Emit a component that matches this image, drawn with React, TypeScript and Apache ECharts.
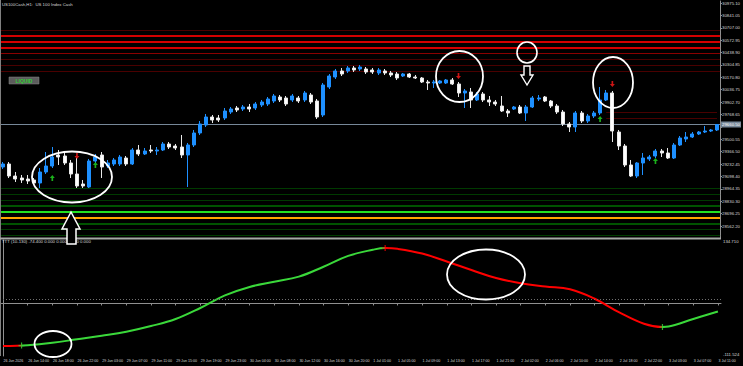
import React, { useEffect, useRef } from "react";
import * as echarts from "echarts";

const chartTitle = "US100Cash,H1:  US 100 Index Cash";
const indicatorTitle = "TTT (10-130) -74.400 0.000 0.000 0.000 0.000";

const priceTicks = [
  30975.1, 30841.05, 30707.0, 30572.95, 30438.9, 30304.85, 30170.8, 30036.75, 29902.7,
  29768.65, 29634.6, 29500.55, 29366.5, 29232.45, 29098.4, 28964.35, 28830.3, 28696.25, 28562.2,
];

const timeLabels = [
  "26 Jun 2026", "26 Jun 14:00", "26 Jun 18:00", "26 Jun 22:00", "29 Jun 03:00", "29 Jun 07:00",
  "29 Jun 11:00", "29 Jun 15:00", "29 Jun 19:00", "29 Jun 23:00", "30 Jun 04:00", "30 Jun 08:00",
  "30 Jun 12:00", "30 Jun 16:00", "30 Jun 20:00", "1 Jul 01:00", "1 Jul 05:00", "1 Jul 09:00",
  "1 Jul 13:00", "1 Jul 17:00", "1 Jul 21:00", "2 Jul 02:00", "2 Jul 06:00", "2 Jul 10:00",
  "2 Jul 14:00", "2 Jul 18:00", "2 Jul 22:00", "3 Jul 03:00", "3 Jul 07:00", "3 Jul 11:00",
];

const opens = [
  29200.6, 29233.1, 29103.2, 29081.6, 29070.8, 29060.0, 29027.5, 29146.5, 29211.4, 29330.5,
  29319.6, 29243.9, 29124.9, 29016.7, 28984.2, 29265.5, 29330.5, 29211.4, 29233.1, 29233.1,
  29298.0, 29233.1, 29384.6, 29341.3, 29384.6, 29373.7, 29384.6, 29449.5, 29427.8, 29417.0,
  29330.5, 29438.7, 29568.5, 29655.1, 29741.6, 29730.8, 29730.8, 29795.7, 29839.0, 29828.2,
  29849.8, 29839.0, 29871.5, 29882.3, 29914.7, 29958.0, 29947.2, 29925.6, 29947.2, 29925.6,
  29979.7, 29914.7, 29763.3, 30066.2, 30174.4, 30239.3, 30239.3, 30271.8, 30261.0, 30261.0,
  30250.2, 30217.7, 30239.3, 30217.7, 30206.9, 30185.2, 30206.9, 30174.4, 30163.6, 30120.3,
  30109.5, 30109.5, 30109.5, 30142.0, 30098.7, 30001.3, 30012.1, 29925.6, 29990.5, 29925.6,
  29903.9, 29860.6, 29806.5, 29828.2, 29849.8, 29784.9, 29849.8, 29936.4, 29958.0, 29914.7,
  29860.6, 29795.7, 29665.9, 29633.4, 29784.9, 29698.3, 29752.4, 29784.9, 29925.6, 30001.3,
  29579.3, 29427.8, 29222.3, 29103.2, 29243.9, 29287.2, 29319.6, 29373.7, 29352.1, 29298.0,
  29438.7, 29503.6, 29525.2, 29557.7, 29579.3, 29590.1, 29601.0,
];
const closes = [
  29233.1, 29103.2, 29070.8, 29060.0, 29049.1, 29027.5, 29146.5, 29211.4, 29308.8, 29308.8,
  29243.9, 29124.9, 28995.0, 28995.0, 29265.5, 29308.8, 29200.6, 29243.9, 29276.4, 29308.8,
  29233.1, 29384.6, 29341.3, 29373.7, 29373.7, 29384.6, 29449.5, 29417.0, 29406.2, 29330.5,
  29438.7, 29568.5, 29665.9, 29741.6, 29709.2, 29709.2, 29806.5, 29828.2, 29817.4, 29849.8,
  29828.2, 29882.3, 29903.9, 29936.4, 29968.8, 29925.6, 29882.3, 29968.8, 29914.7, 30001.3,
  29903.9, 29741.6, 30087.9, 30185.2, 30239.3, 30206.9, 30271.8, 30250.2, 30282.6, 30228.5,
  30228.5, 30250.2, 30217.7, 30196.1, 30163.6, 30206.9, 30174.4, 30163.6, 30120.3, 30109.5,
  30120.3, 30131.1, 30142.0, 30098.7, 30001.3, 30022.9, 29925.6, 29990.5, 29925.6, 29903.9,
  29882.3, 29806.5, 29784.9, 29849.8, 29784.9, 29849.8, 29947.2, 29947.2, 29914.7, 29860.6,
  29795.7, 29665.9, 29633.4, 29784.9, 29698.3, 29752.4, 29784.9, 29925.6, 30001.3, 29590.1,
  29427.8, 29222.3, 29103.2, 29243.9, 29298.0, 29308.8, 29373.7, 29352.1, 29298.0, 29438.7,
  29514.4, 29525.2, 29557.7, 29579.3, 29590.1, 29601.0, 29660.5,
];
const lows = [
  29179.0, 29081.6, 29038.3, 29027.5, 29016.7, 29005.9, 28973.4, 29124.9, 29189.8, 29222.3,
  29222.3, 29081.6, 28973.4, 28973.4, 28973.4, 29243.9, 29081.6, 29189.8, 29211.4, 29211.4,
  29211.4, 29222.3, 29319.6, 29330.5, 29352.1, 29330.5, 29373.7, 29395.4, 29384.6, 29298.0,
  28984.2, 29417.0, 29546.9, 29633.4, 29676.7, 29687.5, 29709.2, 29774.1, 29795.7, 29806.5,
  29795.7, 29817.4, 29849.8, 29860.6, 29893.1, 29903.9, 29860.6, 29903.9, 29893.1, 29903.9,
  29882.3, 29720.0, 29741.6, 30044.6, 30152.8, 30185.2, 30217.7, 30228.5, 30239.3, 30206.9,
  30206.9, 30196.1, 30196.1, 30174.4, 30142.0, 30174.4, 30163.6, 30152.8, 30109.5, 30033.8,
  30055.4, 30098.7, 30098.7, 30087.9, 29958.0, 29839.0, 29839.0, 29914.7, 29903.9, 29860.6,
  29860.6, 29795.7, 29741.6, 29817.4, 29774.1, 29698.3, 29839.0, 29914.7, 29903.9, 29839.0,
  29774.1, 29644.2, 29579.3, 29579.3, 29676.7, 29676.7, 29730.8, 29763.3, 29914.7, 29471.1,
  29384.6, 29200.6, 29092.4, 29081.6, 29114.1, 29265.5, 29298.0, 29308.8, 29287.2, 29287.2,
  29427.8, 29471.1, 29514.4, 29546.9, 29568.5, 29579.3, 29590.1,
];
const highs = [
  29254.7, 29254.7, 29146.5, 29114.1, 29114.1, 29081.6, 29189.8, 29362.9, 29417.0, 29384.6,
  29352.1, 29276.4, 29298.0, 29060.0, 29287.2, 29341.3, 29362.9, 29276.4, 29298.0, 29330.5,
  29319.6, 29406.2, 29438.7, 29406.2, 29438.7, 29417.0, 29471.1, 29471.1, 29449.5, 29546.9,
  29460.3, 29601.0, 29698.3, 29774.1, 29763.3, 29763.3, 29839.0, 29849.8, 29860.6, 29871.5,
  29882.3, 29903.9, 29925.6, 29958.0, 29990.5, 29979.7, 29968.8, 29990.5, 29968.8, 30022.9,
  30001.3, 29936.4, 30109.5, 30206.9, 30261.0, 30271.8, 30293.4, 30293.4, 30304.3, 30282.6,
  30271.8, 30271.8, 30261.0, 30239.3, 30228.5, 30217.7, 30217.7, 30196.1, 30174.4, 30142.0,
  30142.0, 30142.0, 30152.8, 30163.6, 30120.3, 30044.6, 30055.4, 30012.1, 30012.1, 29968.8,
  29925.6, 29968.8, 29828.2, 29860.6, 29871.5, 29871.5, 29968.8, 29979.7, 29968.8, 29925.6,
  29882.3, 29817.4, 29687.5, 29806.5, 29806.5, 29774.1, 29806.5, 30066.2, 30033.8, 30022.9,
  29601.0, 29449.5, 29276.4, 29254.7, 29352.1, 29330.5, 29395.4, 29395.4, 29406.2, 29460.3,
  29536.0, 29579.3, 29579.3, 29590.1, 29644.2, 29611.8, 29665.9,
];

// signal arrows [bar index, price]
const buyArrows = [[8, 29081.6], [15, 29222.3], [97, 29720.0], [106, 29265.5]];
const sellArrows = [[12, 29319.6], [74, 30185.2], [99, 30098.7]];

// horizontal levels
const brightRedLevels = [30617.9, 30553.1, 30488.2];
const mediumRedLevels = [30434.1];
const dimRedLevels = [30677.6, 30369.2, 30304.3, 30239.3];
const partialRedLevels = [29795.7, 29730.8];
const partialRedStart = 98;
const dimGreenLevels = [28973.4, 28908.5, 28843.6, 28529.8, 28464.9];
const mediumGreenLevels = [28778.7, 28583.9];
const brightGreenLevels = [28713.7];
const orangeLevels = [28648.8];

// indicator
const indicatorX = [0, 4, 8, 12, 16, 20, 24, 28, 32, 36, 40, 44, 48, 52, 56, 60, 62, 64, 68, 72, 76, 80, 84, 88, 92, 96, 100, 104, 107, 108, 112, 116];
const indicatorY = [-90.3, -88.5, -83.5, -76, -68.5, -60, -48, -33, -9.6, 17, 35, 46, 57, 78, 101, 114, 117.7, 116, 106, 89, 71, 54, 43, 36, 30, 10, -19, -43, -50, -49, -33, -17];
const indicatorUpCross = [[3, -89.5], [107, -50]];
const indicatorDownCross = [[62, 117.7]];
const indicatorLevels = [10];
const indicatorMax = 134.71;
const indicatorMin = -111.524;

const barCount = opens.length;

export default function App() {
  const ref = useRef<HTMLDivElement>(null);
  useEffect(() => {
    document.body.style.margin = "0";
    document.body.style.background = "#000";
    const chart = echarts.init(ref.current!, undefined, { renderer: "svg" });
    const cats = opens.map((_, i) => String(i));
    const candleData = opens.map((o, i) => [o, closes[i], lows[i], highs[i]]);
    const lastClose = closes[closes.length - 1];
    const font = "Liberation Sans";
    const fs = 4.3;
    const fsTime = 3.6;
    const txt = "#d8d8d8";
    // the bid box covers the axis label that sits under it
    const visiblePriceLabels = priceTicks.filter((p) => Math.abs(p - lastClose) > 60);

    const lvl = (arr: number[], color: string, width: number) =>
      arr.map((v) => ({ yAxis: v, lineStyle: { color, width, type: "solid" as const } }));

    const markData: any[] = [
      ...lvl(dimRedLevels, "#4a0000", 1),
      ...lvl(mediumRedLevels, "#8a0000", 1),
      ...lvl(brightRedLevels, "#d40000", 2),
      ...lvl(dimGreenLevels, "#003a00", 1),
      ...lvl(mediumGreenLevels, "#007000", 1.5),
      ...lvl(brightGreenLevels, "#22e022", 2),
      ...lvl(orangeLevels, "#ffa500", 2),
      ...partialRedLevels.map((v) => [
        { coord: [String(partialRedStart), v], lineStyle: { color: "#4a0000", width: 1, type: "solid" } },
        { coord: [String(barCount - 1), v] },
      ]),
      {
        yAxis: lastClose,
        lineStyle: { color: "#778899", width: 1, type: "solid" },
        label: {
          show: true,
          position: "end",
          distance: 1,
          formatter: () => lastClose.toFixed(2),
          fontSize: fs,
          fontFamily: font,
          color: "#ffffff",
          backgroundColor: "#778899",
          padding: [1, 1],
        },
      },
    ];

    const upArrow = "path://M3,0 L6,3 L4,3 L4,6 L2,6 L2,3 L0,3 Z";
    const downArrow = "path://M2,0 L4,0 L4,3 L6,3 L3,6 L0,3 L2,3 Z";
    const cross = "path://M2,0 H3 V2 H5 V3 H3 V5 H2 V3 H0 V2 H2 Z";

    const indYOffset = (indicatorMax - indicatorMin) / 116 * 1.5;

    chart.setOption({
      animation: false,
      backgroundColor: "#000000",
      grid: [
        { left: -2, width: 723, top: 1, height: 237.39 },
        { left: -2, width: 723, top: 240, height: 116 },
      ],
      xAxis: [
        {
          type: "category", gridIndex: 0, data: cats, boundaryGap: true,
          axisLine: { show: false }, axisTick: { show: false }, axisLabel: { show: false }, splitLine: { show: false },
        },
        {
          type: "category", gridIndex: 1, data: cats, boundaryGap: true,
          axisLine: { show: true, lineStyle: { color: "#909090", width: 1 } },
          axisTick: { show: true, interval: (i: number) => i % 4 === 0, alignWithLabel: true, length: 2, lineStyle: { color: "#909090" } },
          axisLabel: {
            interval: (i: number) => i % 4 === 0,
            formatter: (_v: string, i: number) => timeLabels[i / 4] ?? "",
            align: "left", fontSize: fsTime, fontFamily: font, color: txt, margin: 2.5, padding: [0, 0, 0, 0.5],
            hideOverlap: false,
          },
          splitLine: { show: false },
        },
        { type: "value", gridIndex: 1, min: -0.5, max: barCount - 0.5, show: false },
      ],
      yAxis: [
        {
          type: "value", gridIndex: 0, position: "right", min: 28428.15, max: 30996.74,
          splitLine: { show: false },
          axisLine: { show: true, lineStyle: { color: "#909090" } },
          axisTick: { show: true, customValues: priceTicks, length: 2, lineStyle: { color: "#909090" } },
          axisLabel: {
            customValues: visiblePriceLabels, formatter: (v: number) => v.toFixed(2),
            fontSize: fs, fontFamily: font, color: txt, margin: 2, align: "left",
          },
        },
        {
          type: "value", gridIndex: 1, position: "right", min: indicatorMin, max: indicatorMax,
          splitLine: { show: false },
          axisLine: { show: true, lineStyle: { color: "#909090" } },
          axisTick: { show: false },
          axisLabel: {
            customValues: [indicatorMax - indYOffset, indicatorMin + indYOffset],
            formatter: (v: number) => (v > 0 ? indicatorMax.toFixed(3) : indicatorMin.toFixed(3)),
            fontSize: fs, fontFamily: font, color: txt, margin: 2, align: "left",
          },
        },
      ],
      visualMap: {
        show: false, type: "piecewise", seriesIndex: 3, dimension: 0,
        pieces: [
          { lt: 3, color: "#ff0000" },
          { gte: 3, lt: 62, color: "#3ad83a" },
          { gte: 62, lt: 107, color: "#ff0000" },
          { gte: 107, color: "#3ad83a" },
        ],
      },
      series: [
        {
          type: "candlestick", xAxisIndex: 0, yAxisIndex: 0, data: candleData, barWidth: 3.5,
          itemStyle: { color: "#1e90ff", color0: "#ffffff", borderColor: "#1e90ff", borderColor0: "#e8e8e8", borderWidth: 1 },
          markLine: { silent: true, symbol: ["none", "none"], label: { show: false }, data: markData, z: 1 },
          z: 3,
        },
        {
          type: "scatter", xAxisIndex: 0, yAxisIndex: 0, data: buyArrows.map(([i, p]) => [String(i), p]),
          symbol: upArrow, symbolSize: [5, 6], itemStyle: { color: "#22dd22" }, z: 4,
        },
        {
          type: "scatter", xAxisIndex: 0, yAxisIndex: 0, data: sellArrows.map(([i, p]) => [String(i), p]),
          symbol: downArrow, symbolSize: [5, 6], itemStyle: { color: "#ff1a1a" }, z: 4,
        },
        {
          type: "line", xAxisIndex: 2, yAxisIndex: 1, data: indicatorX.map((x, k) => [x, indicatorY[k]]),
          smooth: 0.4, showSymbol: false, symbol: "none", lineStyle: { width: 2 },
          markLine: {
            silent: true, symbol: ["none", "none"], label: { show: false },
            data: indicatorLevels.map((v) => ({ yAxis: v, lineStyle: { color: "#707070", width: 1, type: [1, 2] } })),
          },
          z: 3,
        },
        {
          type: "scatter", xAxisIndex: 2, yAxisIndex: 1, data: indicatorUpCross,
          symbol: cross, symbolSize: 6, itemStyle: { color: "#3ad83a" }, z: 5,
        },
        {
          type: "scatter", xAxisIndex: 2, yAxisIndex: 1, data: indicatorDownCross,
          symbol: cross, symbolSize: 6, itemStyle: { color: "#ff0000" }, z: 5,
        },
      ],
      graphic: [
        { type: "line", z: 50, shape: { x1: 0.5, y1: 0, x2: 0.5, y2: 356 }, style: { stroke: "#808080", lineWidth: 1 } },
        { type: "line", z: 50, shape: { x1: 0, y1: 238.5, x2: 721, y2: 238.5 }, style: { stroke: "#a8a8a8", lineWidth: 2 } },
        { type: "text", z: 60, x: 2, y: 2, style: { text: chartTitle, fill: txt, fontSize: fs, fontFamily: font } },
        { type: "text", z: 60, x: 2, y: 239.5, style: { text: indicatorTitle, fill: txt, fontSize: fs, fontFamily: font } },
        {
          type: "group", z: 60, x: 9, y: 77,
          children: [
            { type: "rect", shape: { x: 0, y: 0, width: 30, height: 7 }, style: { fill: "#5c5c5c", stroke: "#8a8a8a", lineWidth: 0.5 } },
            { type: "text", x: 15, y: 3.6, style: { text: "LIQUID", fill: "#32cd32", fontSize: 5, fontFamily: font, align: "center", verticalAlign: "middle", fontWeight: "bold" } },
          ],
        },
        { type: "ellipse", z: 70, shape: { cx: 72, cy: 177, rx: 40, ry: 25.5 }, style: { fill: "none", stroke: "#ffffff", lineWidth: 1.8 } },
        {
          type: "polygon", z: 70,
          shape: { points: [[71, 212], [80, 229], [76, 229], [76, 244], [67, 244], [67, 229], [62, 229]] },
          style: { fill: "#000000", stroke: "#ffffff", lineWidth: 1.5 },
        },
        { type: "ellipse", z: 70, shape: { cx: 459.5, cy: 76.5, rx: 23.5, ry: 25.5 }, style: { fill: "none", stroke: "#ffffff", lineWidth: 1.8 } },
        { type: "ellipse", z: 70, shape: { cx: 527, cy: 52.5, rx: 10, ry: 10.5 }, style: { fill: "none", stroke: "#ffffff", lineWidth: 1.6 } },
        {
          type: "polygon", z: 70,
          shape: { points: [[524, 66], [530, 66], [530, 75], [533, 75], [527, 85], [521, 75], [524, 75]] },
          style: { fill: "#000000", stroke: "#ffffff", lineWidth: 1.4 },
        },
        { type: "ellipse", z: 70, shape: { cx: 613, cy: 82.5, rx: 20, ry: 25.5 }, style: { fill: "none", stroke: "#ffffff", lineWidth: 1.8 } },
        { type: "ellipse", z: 70, shape: { cx: 486, cy: 274.5, rx: 39, ry: 25 }, style: { fill: "none", stroke: "#ffffff", lineWidth: 1.8 } },
        { type: "ellipse", z: 70, shape: { cx: 53, cy: 344, rx: 18.5, ry: 13 }, style: { fill: "none", stroke: "#ffffff", lineWidth: 1.8 } },
      ],
    });
    return () => chart.dispose();
  }, []);
  return (
    <div
      ref={ref}
      style={{ position: "absolute", left: 0, top: 0, width: 743, height: 366, background: "#000" }}
    />
  );
}
